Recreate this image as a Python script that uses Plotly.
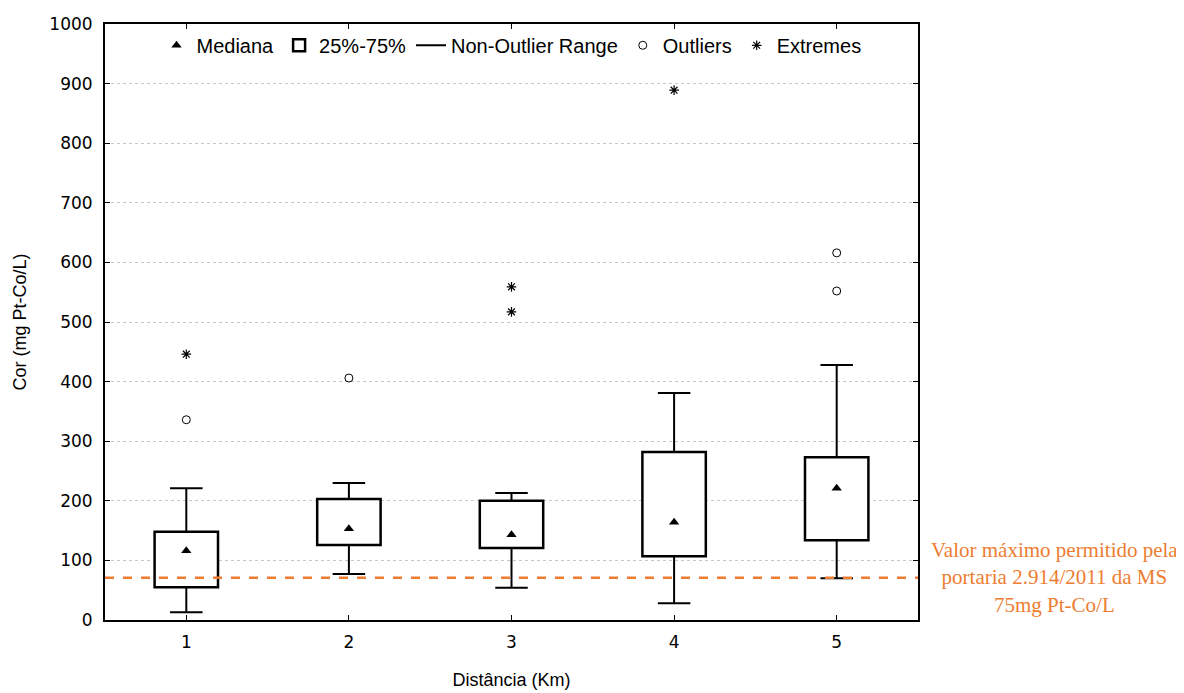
import plotly.graph_objects as go

categories = [1, 2, 3, 4, 5]
whisker_low = [13, 77, 54, 28, 70]
q1 = [55, 126, 121, 107, 134]
median = [116, 153, 143, 164, 221]
q3 = [148, 203, 200, 282, 273]
whisker_high = [221, 230, 213, 381, 428]
outliers = {1: [336], 2: [406], 5: [616, 552]}
extremes = {1: [446], 3: [559, 517], 4: [889]}
limit_value = 71

BOX_W = 0.39
CAP_W = 0.2

fig = go.Figure()

wx, wy = [], []
for c, lo, a, b, hi in zip(categories, whisker_low, q1, q3, whisker_high):
    wx += [c, c, None, c - CAP_W / 2, c + CAP_W / 2, None, c, c, None, c - CAP_W / 2, c + CAP_W / 2, None]
    wy += [lo, a, None, lo, lo, None, b, hi, None, hi, hi, None]

fig.add_trace(go.Scatter(x=wx, y=wy, mode="lines", line=dict(color="black", width=2),
                         name="Non-Outlier Range", legendrank=3))

fig.add_trace(go.Bar(x=categories, y=[b - a for a, b in zip(q1, q3)], base=q1, width=BOX_W,
                     marker=dict(color="white", line=dict(color="black", width=2.5)),
                     name="25%-75%", legendrank=2))

fig.add_trace(go.Scatter(x=categories, y=median, mode="markers",
                         marker=dict(symbol="triangle-up", size=9, color="black"),
                         name="Mediana", legendrank=1))

ox, oy = [], []
for c, vals in outliers.items():
    for v in vals:
        ox.append(c); oy.append(v)
fig.add_trace(go.Scatter(x=ox, y=oy, mode="markers",
                         marker=dict(symbol="circle-open", size=8, color="black", line=dict(width=1)),
                         name="Outliers", legendrank=4))

ex, ey = [], []
for c, vals in extremes.items():
    for v in vals:
        ex.append(c); ey.append(v)
fig.add_trace(go.Scatter(x=ex, y=ey, mode="markers",
                         marker=dict(symbol="asterisk-open", size=8, color="black", line=dict(width=1.2, color="black")),
                         name="Extremes", legendrank=5))

fig.add_shape(type="line", xref="paper", x0=0, x1=1, yref="y", y0=limit_value, y1=limit_value,
              line=dict(color="#ED7D31", width=2.5, dash="dash"), layer="above")

fig.add_annotation(xref="paper", yref="y", x=1.1685, y=limit_value, xanchor="center", yanchor="middle",
                   text="Valor máximo permitido pela<br>portaria 2.914/2011 da MS<br>75mg Pt-Co/L",
                   showarrow=False, align="center",
                   font=dict(family="Liberation Serif", size=21, color="#ED7D31"))

fig.update_layout(
    width=1176, height=685,
    margin=dict(l=97, r=266, t=16, b=73),
    plot_bgcolor="white", paper_bgcolor="white",
    barmode="overlay",
    showlegend=True,
    legend=dict(orientation="h", x=0.5, y=0.997, xanchor="center", yanchor="top",
                font=dict(family="Liberation Sans", size=20, color="black"),
                bgcolor="rgba(0,0,0,0)", itemwidth=30),
    xaxis=dict(range=[0.5, 5.5], tickvals=categories, ticktext=[str(c) for c in categories],
               ticks="inside", ticklen=5, tickcolor="black", showgrid=False, zeroline=False,
               showline=True, linecolor="black", linewidth=2, mirror="ticks", automargin=False,
               ticklabelstandoff=6,
               tickfont=dict(family="DejaVu Sans", size=17, color="black"),
               title=dict(text="Distância (Km)", font=dict(family="Liberation Sans", size=18, color="black"),
                          standoff=22)),
    yaxis=dict(range=[0, 1000], dtick=100, ticks="inside", ticklen=5, tickcolor="black",
               showgrid=True, gridcolor="#c8c8c8", griddash="dot", gridwidth=1, zeroline=False,
               showline=True, linecolor="black", linewidth=2, mirror="ticks", automargin=False,
               ticklabelstandoff=7,
               tickfont=dict(family="DejaVu Sans", size=17, color="black"),
               title=dict(text="Cor (mg Pt-Co/L)", font=dict(family="Liberation Sans", size=18, color="black"),
                          standoff=18)),
)

fig.write_html("out.html")
